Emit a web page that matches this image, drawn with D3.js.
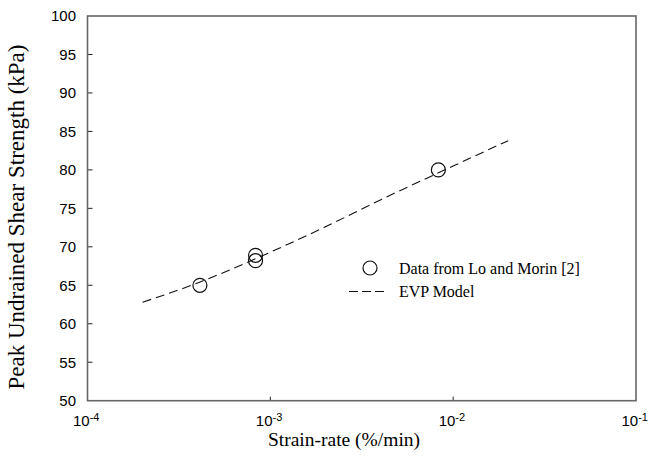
<!DOCTYPE html>
<html>
<head>
<meta charset="utf-8">
<script src="https://cdn.jsdelivr.net/npm/d3@7.9.0/dist/d3.min.js"></script>
<style>
  body { margin: 0; background: #fff; }
  svg { display: block; }
</style>
</head>
<body>
<svg width="649" height="462"></svg>
<script>
// measured data (Lo and Morin)
const dataRate = [4.12e-4, 8.3e-4, 8.3e-4, 8.3e-3];
const dataStrength = [65.0, 68.9, 68.2, 80.0];

// EVP model curve
const modelRate = [2e-4, 4e-4, 6e-4, 1e-3, 2e-3, 4e-3, 1e-2, 2e-2];
const modelStrength = [62.8, 65.3, 67.0, 69.3, 72.6, 76.1, 80.5, 83.8];

const xTicks = [1e-4, 1e-3, 1e-2, 1e-1];
const yTicks = d3.range(50, 101, 5);
const legendLabels = ['Data from Lo and Morin [2]', 'EVP Model'];

const svg = d3.select('svg');
const plotL = 87.5, plotR = 636, plotT = 16, plotB = 400.7;

const x = d3.scaleLog().domain([1e-4, 1e-1]).range([plotL, plotR]);
const y = d3.scaleLinear().domain([50, 100]).range([plotB, plotT]);

// y ticks (inward) + labels
svg.selectAll('.ytick')
  .data(yTicks.slice(1, -1))
  .enter().append('line')
  .attr('x1', plotL).attr('x2', plotL + 5)
  .attr('y1', d => y(d)).attr('y2', d => y(d))
  .attr('stroke', '#222').attr('stroke-width', 1);

svg.selectAll('.ylab')
  .data(yTicks)
  .enter().append('text')
  .attr('x', 76)
  .attr('y', d => y(d) + 5.3)
  .attr('text-anchor', 'end')
  .attr('font-family', 'Liberation Sans, Arial, sans-serif')
  .attr('font-size', 15)
  .text(d => d);

// x ticks
svg.selectAll('.xtick')
  .data(xTicks.slice(1, -1))
  .enter().append('line')
  .attr('x1', d => x(d)).attr('x2', d => x(d))
  .attr('y1', plotB).attr('y2', plotB - 4)
  .attr('stroke', '#222').attr('stroke-width', 1);

const xl = svg.selectAll('.xlab')
  .data(xTicks)
  .enter().append('text')
  .attr('x', d => x(d) - 14.5)
  .attr('y', 426)
  .attr('font-family', 'Liberation Sans, Arial, sans-serif')
  .attr('font-size', 15);
xl.append('tspan').text('10');
xl.append('tspan')
  .attr('dy', -5.5)
  .attr('font-size', 11)
  .text(d => Math.round(Math.log10(d)));

// frame
svg.append('rect')
  .attr('x', plotL).attr('y', plotT)
  .attr('width', plotR - plotL).attr('height', plotB - plotT)
  .attr('fill', 'none')
  .attr('stroke', '#666').attr('stroke-width', 1.6);

// model line
const line = d3.line()
  .x((d, i) => x(modelRate[i]))
  .y(d => y(d))
  .curve(d3.curveMonotoneX);

svg.append('path')
  .attr('d', line(modelStrength))
  .attr('fill', 'none')
  .attr('stroke', '#111')
  .attr('stroke-width', 1.1)
  .attr('stroke-dasharray', '9,5');

// data circles
svg.selectAll('.pt')
  .data(dataStrength)
  .enter().append('circle')
  .attr('cx', (d, i) => x(dataRate[i]))
  .attr('cy', d => y(d))
  .attr('r', 7)
  .attr('fill', 'none')
  .attr('stroke', '#111')
  .attr('stroke-width', 1.2);

// legend
svg.append('circle')
  .attr('cx', 370).attr('cy', 268).attr('r', 7)
  .attr('fill', 'none').attr('stroke', '#111').attr('stroke-width', 1.2);
svg.append('line')
  .attr('x1', 349).attr('x2', 384)
  .attr('y1', 291.5).attr('y2', 291.5)
  .attr('stroke', '#111').attr('stroke-width', 1.1)
  .attr('stroke-dasharray', '9,4');

svg.selectAll('.leg')
  .data(legendLabels)
  .enter().append('text')
  .attr('x', 399)
  .attr('y', (d, i) => 273.5 + i * 23.5)
  .attr('font-family', 'Liberation Serif, Times New Roman, serif')
  .attr('font-size', 16)
  .text(d => d);

// axis titles
svg.append('text')
  .attr('x', 344).attr('y', 446)
  .attr('text-anchor', 'middle')
  .attr('font-family', 'Liberation Serif, Times New Roman, serif')
  .attr('font-size', 19.5)
  .text('Strain-rate (%/min)');

svg.append('text')
  .attr('transform', 'translate(24,217) rotate(-90)')
  .attr('text-anchor', 'middle')
  .attr('font-family', 'Liberation Serif, Times New Roman, serif')
  .attr('font-size', 23)
  .text('Peak Undrained Shear Strength (kPa)');
</script>
</body>
</html>
